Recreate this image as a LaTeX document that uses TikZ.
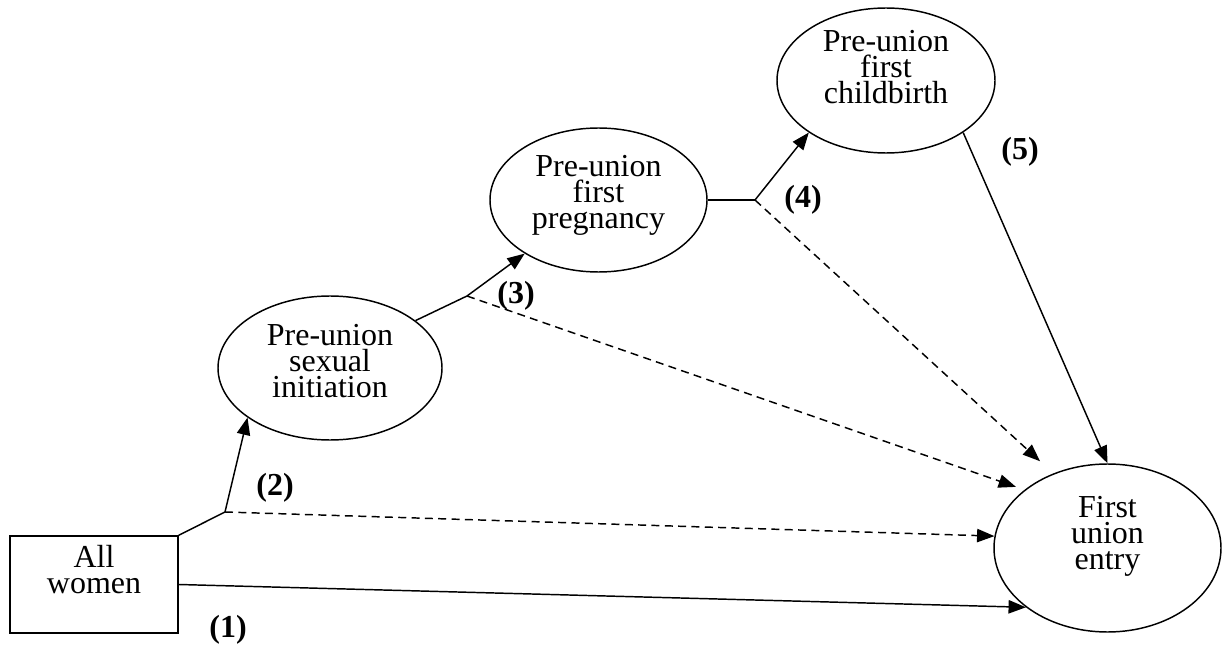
\documentclass[tikz,border=0pt]{standalone}
\usepackage{fontspec}
\setmainfont{Liberation Serif}
\usetikzlibrary{arrows.meta,shapes.geometric}

\begin{document}
\begin{tikzpicture}[x=0.75pt,y=-0.75pt,
    font=\fontsize{24}{19.5}\selectfont,
    oval/.style={draw,ellipse,inner sep=0pt,line width=1.1pt},
    txt/.style={align=center,inner sep=0pt},
    num/.style={font=\fontsize{24}{24}\selectfont\bfseries,inner sep=0pt},
    link/.style={line width=1.1pt},
    arr/.style={link,-{Triangle[length=13pt,width=10pt]}},
    dsh/.style={arr,dash pattern=on 6pt off 4pt}]
    \useasboundingbox (0,0) rectangle (1222,649);

    \node[draw,line width=1.1pt,minimum width=126pt,minimum height=72.75pt,inner sep=0pt] (women) at (94,584.5) {};
    \node[txt] (womentxt) at (94,570) {All\\women};

    \node[oval,minimum width=168pt,minimum height=108pt] (sex) at (330,368) {};
    \node[txt] (sextxt) at (330,361) {Pre-union\\sexual\\initiation};

    \node[oval,minimum width=162.75pt,minimum height=108pt] (preg) at (598.5,200) {};
    \node[txt] (pregtxt) at (598.5,195.5) {Pre-union\\first\\pregnancy};

    \node[oval,minimum width=163.5pt,minimum height=108.75pt] (birth) at (886,80.5) {};
    \node[txt] (birthtxt) at (886,67) {Pre-union\\first\\childbirth};

    \node[oval,minimum width=170.25pt,minimum height=126pt] (union) at (1107.5,548) {};
    \node[txt] (uniontxt) at (1107.5,536.5) {First\\union\\entry};

    % branch points
    \coordinate (br2) at (225,512);
    \coordinate (br3) at (467,296);
    \coordinate (br4) at (755,200);

    \draw[link] (women.north east) -- (br2);
    \draw[arr] (br2) -- (sex.211);
    \draw[dsh] (br2) -- (union.174);
    \draw[arr] (women.east) -- (union.216);

    \draw[link] (sex.29) -- (br3);
    \draw[arr] (br3) -- (preg.216);
    \draw[dsh,shorten >=6.75pt] (br3) -- (union.145);

    \draw[link] (preg.east) -- (br4);
    \draw[arr] (br4) -- (birth.214);
    \draw[dsh,shorten >=13.5pt] (br4) -- (union.126);

    \draw[arr] (birth.326) -- (union.north);

    % path labels
    \node[num] (lab1) at (228,630) {(1)};
    \node[num] (lab2) at (275,488) {(2)};
    \node[num] (lab3) at (516,296) {(3)};
    \node[num] (lab4) at (803,200) {(4)};
    \node[num] (lab5) at (1020,152) {(5)};
\end{tikzpicture}
\end{document}
